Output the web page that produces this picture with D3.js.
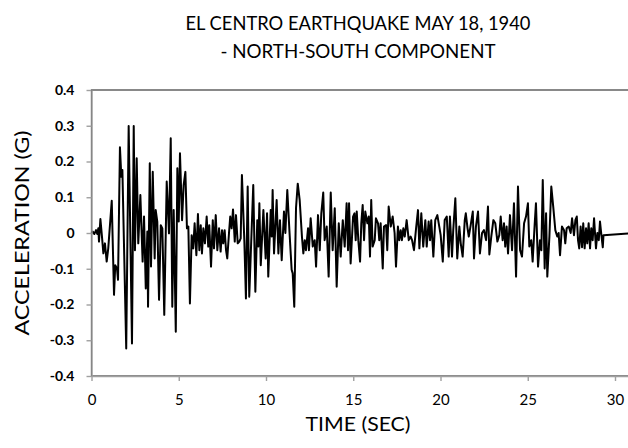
<!DOCTYPE html>
<html>
<head>
<meta charset="utf-8" />
<title>El Centro Earthquake NS</title>
<script src="https://d3js.org/d3.v7.min.js"></script>
<style>
  body { margin: 0; background: #fff; }
  text { font-family: Lato, "Open Sans", sans-serif; fill: #000; }
</style>
</head>
<body>
<script>
// values (peaks and troughs of the record)
const timeSec = [
  0, 0.07, 0.16, 0.26, 0.33, 0.39, 0.43, 0.51, 0.60, 0.68, 0.77, 0.87, 0.96, 1.16, 1.29, 1.36, 1.46, 1.52, 1.63, 1.71, 1.77, 1.99, 2.13, 2.32, 2.42, 2.49, 2.59, 2.68, 2.80,
  2.93, 3.01, 3.11, 3.20, 3.24, 3.34, 3.41, 3.51, 3.62, 3.68, 3.77, 3.87, 3.97, 4.06, 4.17, 4.31, 4.44, 4.54, 4.63, 4.71, 4.83, 4.92, 5.00, 5.07, 5.19, 5.28, 5.38, 5.47, 5.55, 5.64,
  5.74, 5.83, 5.91, 6.01, 6.10, 6.18, 6.26, 6.33, 6.41, 6.50, 6.60, 6.69, 6.75, 6.85, 6.95, 7.02, 7.12, 7.21, 7.31, 7.40, 7.48, 7.55, 7.63, 7.71, 7.78, 7.88, 7.95, 8.03, 8.11, 8.21, 8.28, 8.38, 8.47, 8.55, 8.62, 8.76, 8.85, 8.95, 9.04,
  9.27, 9.39, 9.50, 9.56, 9.62, 9.70, 9.85, 9.98, 10.06, 10.13, 10.27, 10.33, 10.38, 10.46, 10.61, 10.71, 10.80, 10.90, 11.03, 11.11, 11.22, 11.34, 11.47, 11.53, 11.62, 11.72, 11.82, 11.93,
  12.06, 12.14, 12.22, 12.29, 12.41, 12.46, 12.56, 12.68, 12.79, 12.87, 12.98, 13.08, 13.17, 13.28, 13.36, 13.48, 13.59, 13.71, 13.82, 13.94, 14.05, 14.17, 14.28, 14.40, 14.51, 14.62, 14.70, 14.76, 14.85, 14.99,
  15.07, 15.14, 15.20, 15.29, 15.39, 15.46, 15.54, 15.62, 15.69, 15.81, 15.89, 15.96, 16.03, 16.11, 16.23, 16.30, 16.42, 16.49, 16.57, 16.69, 16.76, 16.88, 16.95, 17.03, 17.15, 17.26, 17.37, 17.45, 17.56, 17.64, 17.72, 17.79, 17.87, 17.95, 18.06, 18.18, 18.29,
  18.37, 18.48, 18.60, 18.71, 18.79, 18.90, 19.01, 19.13, 19.21, 19.32, 19.40, 19.47, 19.59, 19.70, 19.82, 19.93, 20.01, 20.13, 20.24, 20.36, 20.47, 20.54, 20.66, 20.73, 20.85, 20.96, 21.08, 21.16, 21.27, 21.39, 21.45,
  21.55, 21.62, 21.73, 21.85, 21.92, 22.03, 22.15, 22.26, 22.38, 22.49, 22.61, 22.72, 22.80, 22.91, 23.03, 23.14, 23.26, 23.37, 23.45, 23.56, 23.64, 23.71, 23.79, 23.87, 23.98, 24.10, 24.21, 24.33, 24.44, 24.56, 24.67,
  24.79, 24.90, 25.01, 25.09, 25.20, 25.28, 25.40, 25.47, 25.59, 25.70, 25.78, 25.86, 25.97, 26.05, 26.12, 26.24, 26.35, 26.46, 26.58, 26.69, 26.77, 26.85, 26.96, 27.08, 27.15, 27.23, 27.35, 27.46, 27.54, 27.65,
  27.73, 27.81, 27.88, 27.95, 28.03, 28.11, 28.18, 28.26, 28.34, 28.41, 28.49, 28.57, 28.64, 28.72, 28.80, 28.91, 28.99, 29.07, 29.14, 29.22, 29.30, 29.34, 31.2
];
const accelG = [
  0, 0.004, -0.003, 0.008, -0.003, 0.013, -0.024, 0.039, -0.01, -0.057, -0.029, -0.08, -0.043, 0.09, -0.173, -0.09, -0.099, -0.131, 0.24, 0.157, 0.176, -0.323, 0.299, -0.309, 0.299, -0.048, 0.209, -0.029, 0.106,
  -0.08, 0.046, -0.155, 0.004, -0.206, 0.195, -0.094, 0.171, -0.071, 0.064, 0.032, -0.187, 0.022, 0.013, -0.229, 0.144, -0.001, 0.265, -0.206, 0.064, -0.276, 0.181, 0.032, 0.223, 0.036, 0.134, 0.171, 0.013, 0.018, -0.197,
  -0.006, -0.043, 0.027, -0.062, 0.053, -0.048, 0.022, -0.057, 0.013, -0.029, 0.046, -0.038, 0.022, -0.094, 0.036, -0.043, 0.05, -0.048, 0.013, -0.052, 0.008, -0.029, 0.008, -0.048, -0.071, 0, 0.046, 0.013, 0.066, -0.024, 0.05, -0.029, -0.024, -0.015, 0.162, -0.024, -0.183, 0.13, -0.178,
  0.134, -0.164, 0.036, -0.038, 0.083, -0.09, 0.064, -0.071, 0.055, -0.122, 0.064, -0.01, 0.12, -0.057, 0.092, -0.057, 0.036, -0.076, 0.06, 0, 0.12, 0.008, -0.103, -0.113, -0.206, 0.07, 0.138, 0.092,
  -0.01, -0.057, -0.02, -0.048, 0.013, -0.048, 0.041, -0.038, -0.02, -0.094, 0.05, -0.048, 0.055, 0.113, -0.02, 0.018, -0.122, 0.113, -0.048, 0.069, -0.15, 0.027, -0.066, 0.036, -0.038, 0.083, -0.048, 0.083, -0.085, 0.046,
  0.055, -0.02, 0.06, -0.02, -0.08, 0.027, 0.078, -0.02, 0.06, 0.027, 0.046, -0.066, 0.092, -0.038, -0.02, 0.041, 0.027, -0.02, 0.027, -0.099, 0.018, 0.022, -0.048, 0.074, 0.018, 0.046, 0, -0.094, 0.018, -0.02, 0.008, -0.02, 0.013, -0.01, 0.036, -0.02, -0.01,
  -0.02, -0.048, 0.013, 0.064, -0.043, 0.055, -0.038, 0.036, -0.038, 0.032, -0.02, 0.036, -0.066, 0.036, 0.05, 0.018, -0.006, -0.08, 0.036, 0.046, -0.066, 0.046, -0.066, 0.008, 0.097, -0.071, 0.018, -0.029, -0.066, 0.036, 0.055,
  0.013, -0.01, 0.022, 0.06, -0.071, 0.018, 0.06, -0.057, 0, 0.008, -0.02, 0.074, -0.06, -0.01, 0.036, 0.027, -0.024, -0.006, 0.046, -0.02, 0.027, -0.038, 0.018, -0.057, 0.05, -0.048, 0.083, -0.122, 0.13, -0.048, -0.066,
  0.027, 0.046, 0.083, -0.038, -0.02, -0.08, 0.027, 0.083, -0.094, -0.02, -0.048, 0.148, -0.099, 0.055, -0.122, -0.01, 0.13, 0.074, 0.008, -0.01, 0, -0.062, 0.018, 0.008, -0.029, 0.013, 0.018, 0, 0.041, -0.006,
  0.036, 0.046, -0.02, -0.043, 0.018, -0.04, 0.027, -0.043, 0.013, -0.029, 0.027, -0.043, 0.013, -0.02, 0.041, -0.043, 0, -0.02, 0.032, -0.006, -0.04, -0.006, 0
];
const xTicks = [0, 5, 10, 15, 20, 25, 30];
const yTicks = [0.4, 0.3, 0.2, 0.1, 0, -0.1, -0.2, -0.3, -0.4];
const yTickLabels = ['0.4', '0.3', '0.2', '0.1', '0', '-0.1', '-0.2', '-0.3', '-0.4'];
const titleLines = ['EL CENTRO EARTHQUAKE MAY 18, 1940', '- NORTH-SOUTH COMPONENT'];
const xLabel = 'TIME (SEC)';
const yLabel = 'ACCELERATION (G)';

const W = 628, H = 448;
const plotLeft = 91.5, plotTop = 90, plotBottom = 376;
const pxPerSec = 17.45;

const svg = d3.select('body').append('svg')
  .attr('width', W)
  .attr('height', H);

const x = d3.scaleLinear().domain([0, 31]).range([plotLeft, plotLeft + 31 * pxPerSec]);
const y = d3.scaleLinear().domain([-0.4, 0.4]).range([plotBottom, plotTop]);

// plot frame (right edge runs off the picture)
svg.append('rect')
  .attr('x', x(0)).attr('y', y(0.4))
  .attr('width', x(31) - x(0)).attr('height', y(-0.4) - y(0.4))
  .attr('fill', 'none').attr('stroke', '#4a4a4a').attr('stroke-width', 1.3);

const data = timeSec.map((t, i) => ({ t: t, a: accelG[i] }));

svg.append('path')
  .datum(data)
  .attr('fill', 'none')
  .attr('stroke', '#000')
  .attr('stroke-width', 2)
  .attr('stroke-linejoin', 'round')
  .attr('d', d3.line().x(d => x(d.t)).y(d => y(d.a)));

const yAxis = svg.append('g')
  .attr('transform', `translate(${plotLeft},0)`)
  .call(d3.axisLeft(y).tickValues(yTicks).tickFormat((d, i) => yTickLabels[i]).tickSize(5).tickSizeOuter(0).tickPadding(12));

const xAxis = svg.append('g')
  .attr('transform', `translate(0,${plotBottom})`)
  .call(d3.axisBottom(x).tickValues(xTicks).tickFormat(d3.format('d')).tickSize(5).tickSizeOuter(0).tickPadding(13));

svg.selectAll('.domain, .tick line').attr('stroke', '#a0a0a0').attr('stroke-width', 1.4);
yAxis.selectAll('text').style('font-family', 'Lato, sans-serif').style('font-size', '14px').style('font-weight', 'bold').attr('fill', '#000');
xAxis.selectAll('text').style('font-family', 'Lato, sans-serif').style('font-size', '15px').attr('fill', '#000');

// titles
svg.selectAll('.title')
  .data(titleLines)
  .enter().append('text')
  .attr('class', 'title')
  .attr('x', 358)
  .attr('y', (d, i) => 30 + i * 28)
  .attr('text-anchor', 'middle')
  .attr('textLength', (d, i) => i === 0 ? 345 : 275)
  .attr('lengthAdjust', 'spacingAndGlyphs')
  .style('font-size', '20px')
  .text(d => d);

svg.append('text')
  .attr('x', 358).attr('y', 431)
  .attr('text-anchor', 'middle')
  .attr('textLength', 105)
  .attr('lengthAdjust', 'spacingAndGlyphs')
  .style('font-size', '19px')
  .text(xLabel);

svg.append('text')
  .attr('transform', 'translate(29,233) rotate(-90)')
  .attr('text-anchor', 'middle')
  .attr('textLength', 205)
  .attr('lengthAdjust', 'spacingAndGlyphs')
  .style('font-size', '19px')
  .text(yLabel);
</script>
</body>
</html>
